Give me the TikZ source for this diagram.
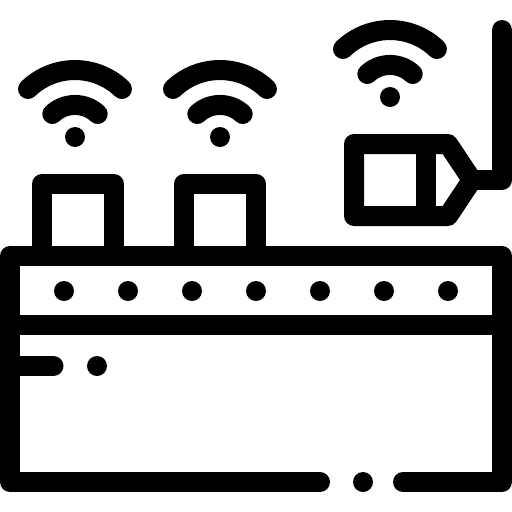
\documentclass[tikz,border=0pt]{standalone}
\tikzset{
  icon/.style={line width=20pt,line cap=round,line join=round,draw=black},
  butt/.style={line width=20pt,line cap=butt,line join=round,draw=black},
  blob/.style={fill=black,draw=none}
}
\begin{document}
\begin{tikzpicture}[x=1pt,y=-1pt]
\useasboundingbox (0,0) rectangle (512,512);
% table
\draw[icon] (320,482) -- (10,482) -- (10,256) -- (502,256) -- (502,482) -- (403,482);
\draw[butt] (10,325) -- (502,325);
\draw[icon] (10,366) -- (53.5,366);
\fill[blob] (97,366) circle (10);
\fill[blob] (363,482) circle (10);
\foreach \x in {64,128,192,256,320,384,448} \fill[blob] (\x,291) circle (10);
% boxes
\draw[butt] (42,256) -- (42,184) -- (114,184) -- (114,256);
\draw[butt] (184,256) -- (184,184) -- (256,184) -- (256,256);
% camera
\draw[icon] (354,144) -- (448,144) -- (472,180) -- (448,216) -- (354,216) -- cycle;
\draw[butt] (426,144) -- (426,216);
\draw[icon] (472,180) -- (502,180) -- (502,30);
% wifi
\foreach \dx/\dy in {0/0,-315/40,-170/40}{
  \begin{scope}[shift={(\dx,\dy)}]
    \fill[blob] (390,97) circle (10);
    \draw[icon] (367.3,74) arc (226.5:313.5:33);
    \draw[icon] (343,49) arc (226:314:67.6);
  \end{scope}
}
\end{tikzpicture}
\end{document}
